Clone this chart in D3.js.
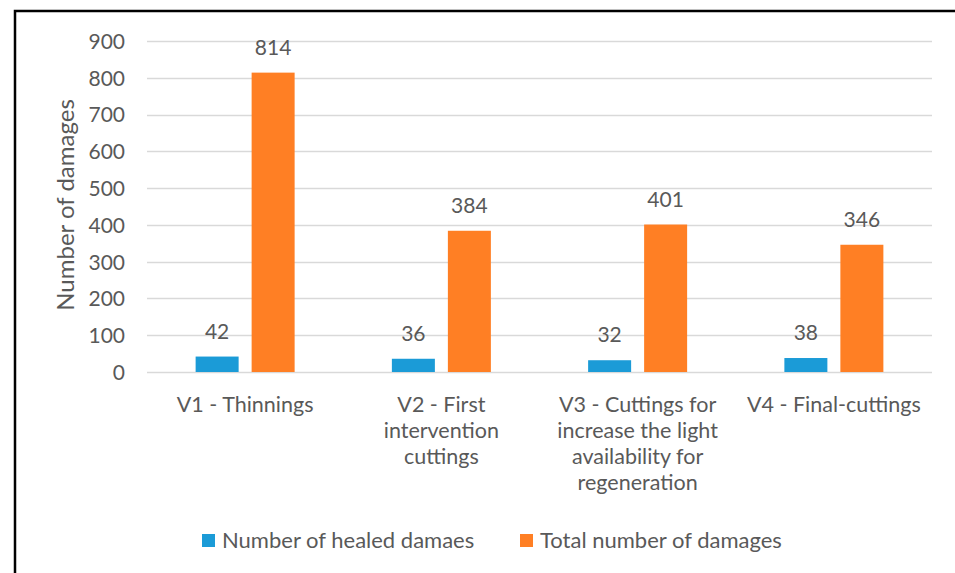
<!DOCTYPE html>
<html>
<head>
<meta charset="utf-8">
<script src="https://cdn.jsdelivr.net/npm/d3@7"></script>
<style>
  body { margin: 0; background: #fff; }
  svg { display: block; }
  text { font-family: Lato, "Open Sans", sans-serif; fill: #595959; }
</style>
</head>
<body>
<svg id="chart" width="955" height="573"></svg>
<script>
const categories = [
  ["V1 - Thinnings"],
  ["V2 - First", "intervention", "cuttings"],
  ["V3 - Cuttings for", "increase the light", "availability for", "regeneration"],
  ["V4 - Final-cuttings"]
];
const seriesNames = ["Number of healed damaes", "Total number of damages"];
const healed = [42, 36, 32, 38];
const total = [814, 384, 401, 346];
const yTicks = [0, 100, 200, 300, 400, 500, 600, 700, 800, 900];
const colors = ["#1B9BD7", "#FF7F24"];

(function () {
const svg = d3.select("#chart");

// frame
svg.append("rect").attr("x", 15).attr("y", 11).attr("width", 1000).attr("height", 700)
  .attr("fill", "none").attr("stroke", "#000").attr("stroke-width", 2.5);

const pLeft = 147, pRight = 932, pTop = 41, pBottom = 372;
const x = d3.scaleBand().domain(d3.range(categories.length)).range([pLeft, pRight]);
const y = d3.scaleLinear().domain([0, 900]).range([pBottom, pTop]);

// gridlines
svg.append("g").selectAll("line").data(yTicks).join("line")
  .attr("x1", pLeft).attr("x2", pRight)
  .attr("y1", d => Math.round(y(d)) + 0.5).attr("y2", d => Math.round(y(d)) + 0.5)
  .attr("stroke", "#d9d9d9").attr("stroke-width", 1.3);

// y axis labels
const yAxis = d3.axisLeft(y).tickValues(yTicks).tickSize(0).tickPadding(0);
const yg = svg.append("g").attr("transform", `translate(125,0)`).call(yAxis);
yg.select(".domain").remove();
yg.selectAll("text").attr("font-size", 21).style("font-family", "Lato, sans-serif").attr("fill", "#595959").attr("dy", "0.35em");

// y title
svg.append("text").attr("transform", `translate(74,205) rotate(-90)`)
  .attr("text-anchor", "middle").attr("font-size", 24).text("Number of damages");

const barW = 43, gap = 13;
const series = [healed, total];
series.forEach((vals, si) => {
  const off = si === 0 ? -gap / 2 - barW : gap / 2;
  const g = svg.append("g");
  g.selectAll("rect").data(vals).join("rect")
    .attr("x", (d, i) => x(i) + x.bandwidth() / 2 + off)
    .attr("width", barW)
    .attr("y", d => y(d))
    .attr("height", d => y(0) - y(d))
    .attr("fill", colors[si]);
  g.selectAll("text").data(vals).join("text")
    .attr("x", (d, i) => x(i) + x.bandwidth() / 2 + off + barW / 2)
    .attr("y", d => y(d) - 18)
    .attr("text-anchor", "middle").attr("font-size", 21)
    .text(d => d);
});

// category labels
const cg = svg.append("g");
categories.forEach((lines, i) => {
  const t = cg.append("text").attr("text-anchor", "middle").attr("font-size", 21.5);
  lines.forEach((ln, j) => {
    t.append("tspan").attr("x", x(i) + x.bandwidth() / 2).attr("y", 412 + j * 26).text(ln);
  });
});

// legend
const legX = [202, 520];
seriesNames.forEach((n, i) => {
  svg.append("rect").attr("x", legX[i]).attr("y", 534).attr("width", 13).attr("height", 13).attr("fill", colors[i]);
  svg.append("text").attr("x", legX[i] + 20).attr("y", 547.5).attr("font-size", 22).text(n);
});
})();
</script>
</body>
</html>
